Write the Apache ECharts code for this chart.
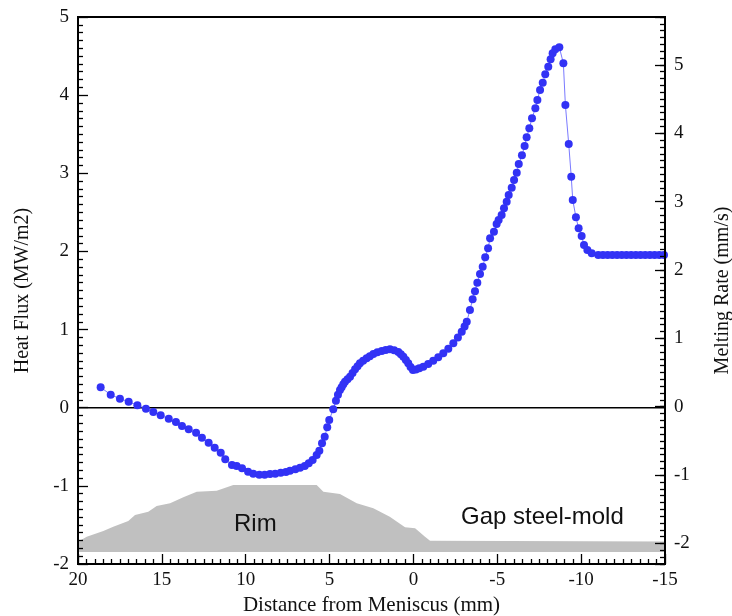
<!DOCTYPE html>
<html>
<head>
<meta charset="utf-8">
<script src="https://cdn.jsdelivr.net/npm/echarts@6/dist/echarts.min.js"></script>
<style>html,body{margin:0;padding:0;background:#fff;}#c{width:732px;height:616px;}</style>
</head>
<body>
<div id="c"></div>
<script>
// Heat flux curve: distance from meniscus (mm) and heat flux (MW/m2)
const distance = [18.65,18.05,17.50,16.98,16.46,15.95,15.51,15.07,14.59,14.16,13.80,13.40,12.96,12.61,12.21,11.85,11.49,11.22,10.82,10.54,10.22,9.86,9.55,9.19,8.87,8.55,8.24,7.91,7.60,7.36,7.04,6.76,6.48,6.24,6.01,5.77,5.61,5.45,5.29,5.14,5.02,4.78,4.62,4.50,4.38,4.28,4.18,4.08,3.93,3.78,3.63,3.48,3.33,3.19,3.00,2.79,2.60,2.39,2.15,1.89,1.65,1.40,1.15,0.90,0.75,0.60,0.45,0.31,0.17,0.03,-0.15,-0.35,-0.59,-0.88,-1.18,-1.48,-1.78,-2.08,-2.38,-2.65,-2.88,-3.05,-3.18,-3.37,-3.53,-3.67,-3.81,-3.97,-4.13,-4.28,-4.45,-4.57,-4.80,-4.96,-5.08,-5.26,-5.40,-5.56,-5.68,-5.86,-6.00,-6.16,-6.28,-6.47,-6.63,-6.75,-6.91,-7.07,-7.27,-7.39,-7.55,-7.71,-7.86,-8.04,-8.18,-8.30,-8.46,-8.70,-8.94,-9.06,-9.26,-9.41,-9.50,-9.69,-9.85,-10.03,-10.17,-10.37,-10.63,-11.02,-11.30,-11.58,-11.86,-12.14,-12.42,-12.70,-12.98,-13.26,-13.54,-13.82,-14.10,-14.38,-14.66,-14.94];
const heatFlux = [0.261,0.166,0.115,0.077,0.031,-0.013,-0.055,-0.097,-0.141,-0.183,-0.234,-0.276,-0.320,-0.384,-0.448,-0.512,-0.576,-0.660,-0.733,-0.746,-0.776,-0.819,-0.845,-0.857,-0.857,-0.848,-0.845,-0.832,-0.823,-0.806,-0.788,-0.768,-0.746,-0.712,-0.669,-0.605,-0.550,-0.456,-0.371,-0.251,-0.157,-0.020,0.090,0.166,0.227,0.261,0.300,0.333,0.365,0.397,0.445,0.491,0.530,0.568,0.600,0.632,0.660,0.687,0.710,0.726,0.740,0.747,0.735,0.713,0.685,0.653,0.610,0.568,0.520,0.482,0.490,0.505,0.525,0.560,0.601,0.645,0.696,0.755,0.824,0.900,0.973,1.040,1.101,1.250,1.387,1.490,1.600,1.711,1.804,1.925,2.040,2.168,2.252,2.351,2.402,2.466,2.552,2.636,2.722,2.815,2.914,3.007,3.119,3.230,3.349,3.460,3.576,3.704,3.832,3.938,4.066,4.159,4.267,4.364,4.459,4.535,4.587,4.612,4.407,3.874,3.375,2.956,2.658,2.437,2.296,2.197,2.082,2.018,1.976,1.954,1.954,1.954,1.955,1.955,1.954,1.954,1.955,1.955,1.954,1.954,1.954,1.955,1.954,1.954];

// Grey profile (Rim / gap steel-mold) top edge
const rimDistance = [20,19.48,18.49,17.9,17.0,16.6,15.81,15.31,14.51,13.72,12.92,11.73,10.74,8.55,5.77,5.37,4.38,3.38,2.39,1.41,0.5,-0.1,-0.69,-0.99,-15];
const rimTop = [-1.715,-1.651,-1.578,-1.523,-1.45,-1.373,-1.331,-1.258,-1.223,-1.147,-1.075,-1.062,-0.989,-0.989,-0.989,-1.075,-1.104,-1.223,-1.287,-1.395,-1.531,-1.543,-1.651,-1.702,-1.712];
const rimBase = -1.847;

// Axis ranges / ticks
const xMin = -15, xMax = 20, xStep = 5;
const yMin = -2, yMax = 5, yStep = 1;
const rateMin = -2.3, rateMax = 5.7, rateMinor = 0.1;

const serif = '"Liberation Serif", "Times New Roman", serif';
const sans = '"Liberation Sans", Arial, sans-serif';

const chart = echarts.init(document.getElementById('c'));

const mainData = distance.map((d, i) => [d, heatFlux[i]]);
const rimData = rimDistance.map((d, i) => [d, rimTop[i]]);
const zeroLine = [[xMin, 0], [xMax, 0]];

function ts() { return {color: '#000', width: 1.3}; }
function intLabel(v) { return Math.abs(v - Math.round(v)) < 1e-6 ? String(Math.round(v)) : ''; }
// hidden helper axes whose zero sits on a grid edge (axes are anchored there with onZero)
function helper(lo, hi) { return {type: 'value', show: false, min: lo, max: hi, axisLine: {onZero: false}}; }

chart.setOption({
  animation: false,
  backgroundColor: '#fff',
  title: [
    {text: 'Rim', left: 234, top: 512, textStyle: {fontFamily: sans, fontSize: 24, fontWeight: 'normal', color: '#111'}, padding: 0},
    {text: 'Gap steel-mold', left: 461, top: 505, textStyle: {fontFamily: sans, fontSize: 24, fontWeight: 'normal', color: '#111'}, padding: 0}
  ],
  grid: {left: 78, right: 67, top: 17, bottom: 52, show: true, borderColor: '#000', borderWidth: 2, backgroundColor: 'transparent', containLabel: false, outerBoundsMode: 'none'},
  xAxis: [
    {
      type: 'value', inverse: true, min: xMin, max: xMax, interval: xStep, z: 10,
      axisLine: {show: true, onZero: true, onZeroAxisIndex: 3, lineStyle: {color: '#000', width: 2}},
      axisTick: {show: true, inside: true, length: 10, lineStyle: ts()},
      minorTick: {show: true, splitNumber: 10, length: 5, lineStyle: ts()},
      splitLine: {show: false},
      axisLabel: {fontFamily: serif, fontSize: 19, color: '#111', margin: 7},
      name: 'Distance from Meniscus (mm)', nameLocation: 'middle', nameGap: 30,
      nameTextStyle: {fontFamily: serif, fontSize: 21, color: '#111'}
    },
    helper(0, 1),
    helper(-1, 0)
  ],
  yAxis: [
    {
      type: 'value', position: 'left', min: yMin, max: yMax, interval: yStep, z: 10,
      axisLine: {show: true, onZero: true, onZeroAxisIndex: 1, lineStyle: {color: '#000', width: 2}},
      axisTick: {show: true, inside: true, length: 10, lineStyle: ts()},
      minorTick: {show: true, splitNumber: 10, length: 5, lineStyle: ts()},
      splitLine: {show: false},
      axisLabel: {fontFamily: serif, fontSize: 19, color: '#111', margin: 9},
      name: 'Heat Flux (MW/m2)', nameLocation: 'middle', nameGap: 45,
      nameTextStyle: {fontFamily: serif, fontSize: 20, color: '#111'}
    },
    {
      type: 'value', position: 'right', offset: 0, min: rateMin, max: rateMax, interval: rateMinor, z: 10,
      axisLine: {show: true, onZero: true, onZeroAxisIndex: 2, lineStyle: {color: '#000', width: 2}},
      axisTick: {show: true, inside: true, length: 5, lineStyle: ts()},
      splitLine: {show: false},
      axisLabel: {fontFamily: serif, fontSize: 19, color: '#111', margin: 9, formatter: intLabel, showMinLabel: true, showMaxLabel: true},
      name: 'Melting Rate (mm/s)', nameLocation: 'middle', nameGap: 48, nameRotate: 90,
      nameTextStyle: {fontFamily: serif, fontSize: 20, color: '#111'}
    },
    {
      type: 'value', position: 'right', offset: 0, min: rateMin, max: rateMax, splitNumber: 8, z: 10,
      axisLine: {show: false, onZero: true, onZeroAxisIndex: 2},
      axisTick: {show: true, inside: true, length: 10, lineStyle: ts()},
      splitLine: {show: false},
      axisLabel: {show: true, formatter: () => ''}
    },
    helper(0, 1)
  ],
  series: [
    {
      type: 'line', xAxisIndex: 0, yAxisIndex: 0, data: rimData, symbol: 'none',
      lineStyle: {width: 0}, itemStyle: {color: '#c0c0c0'},
      areaStyle: {color: '#c0c0c0', opacity: 1, origin: rimBase}, silent: true
    },
    {
      type: 'line', xAxisIndex: 0, yAxisIndex: 0, data: zeroLine, symbol: 'none', silent: true,
      lineStyle: {color: '#000', width: 1.5}
    },
    {
      type: 'line', xAxisIndex: 0, yAxisIndex: 0, data: mainData,
      symbol: 'circle', symbolSize: 8, showAllSymbol: true,
      itemStyle: {color: '#3232f5'},
      lineStyle: {color: '#7a7aff', width: 1}
    }
  ]
});
</script>
</body>
</html>
